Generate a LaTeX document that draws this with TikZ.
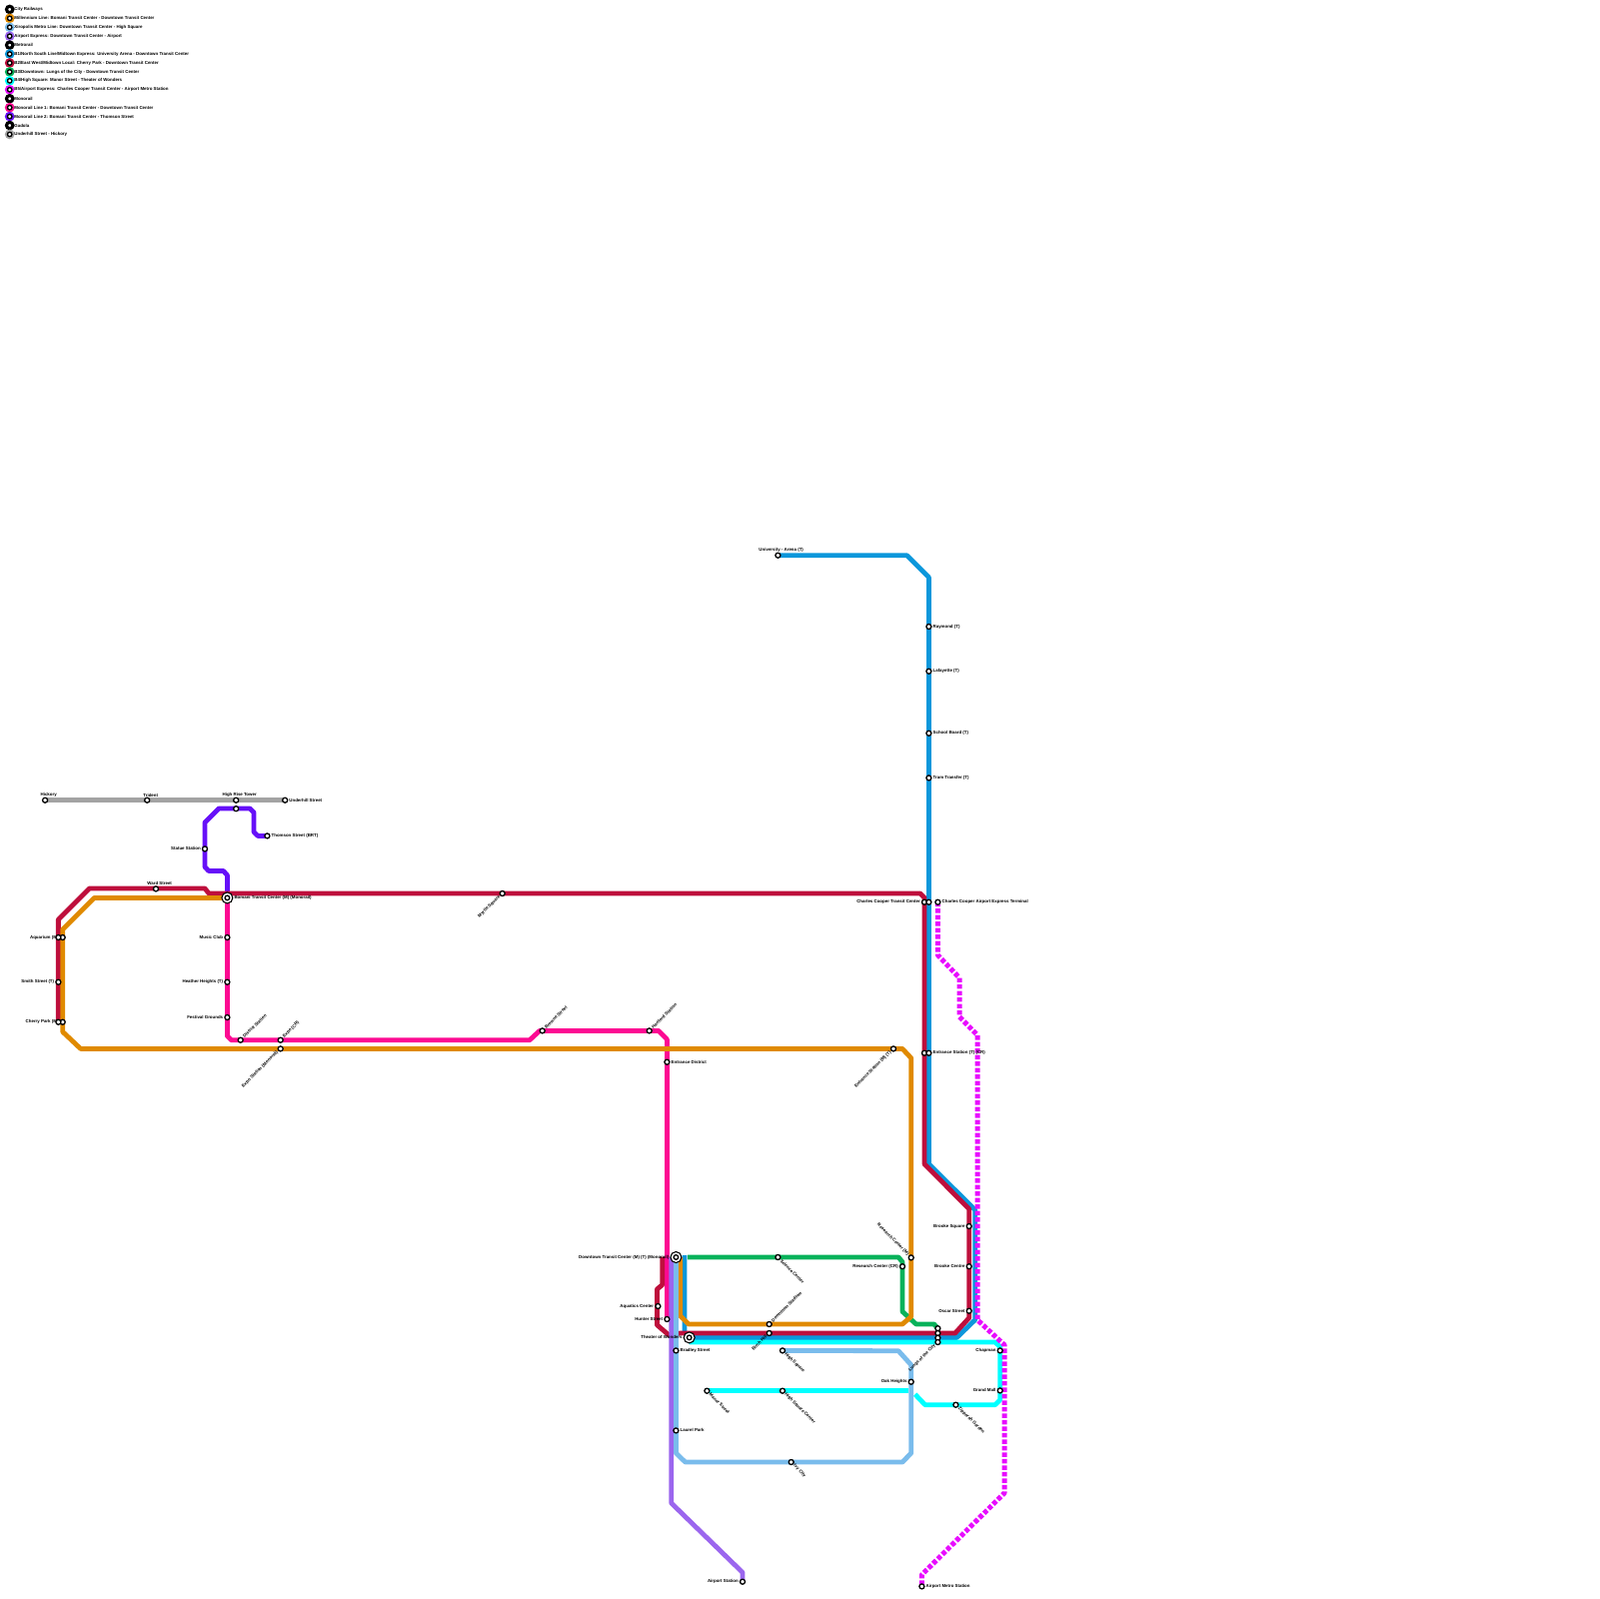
\documentclass[tikz,border=0pt]{standalone}
\usepackage{fontspec}
\setmainfont{Liberation Sans}
\definecolor{greyline}{HTML}{A3A3A3}
\definecolor{violetline}{HTML}{6610F8}
\definecolor{pinkline}{HTML}{FC0A92}
\definecolor{blueline}{HTML}{0B97DB}
\definecolor{cyanline}{HTML}{00FFFF}
\definecolor{redline}{HTML}{BE0F3C}
\definecolor{greenline}{HTML}{08B25A}
\definecolor{orangeline}{HTML}{E08A00}
\definecolor{purpleline}{HTML}{9B66EE}
\definecolor{skyline}{HTML}{7ABCEC}
\definecolor{magentaline}{HTML}{E80CFF}
\tikzset{
  route/.style={line width=4.8*0.1mm, line join=round},
  stn/.style={circle, draw=black, fill=white, line width=1.3*0.1mm, minimum size=5*0.1mm, inner sep=0pt},
  hub/.style={circle, draw=black, fill=white, line width=1.1*0.1mm, minimum size=11*0.1mm, inner sep=0pt,
    path picture={\draw[black, line width=1.3*0.1mm, fill=white] (path picture bounding box.center) circle (2.3*0.1mm);}},
  lbl/.style={font=\fontsize{1.25pt}{1.5pt}\selectfont\bfseries, text=black, inner sep=0.4*0.1mm},
  lblR/.style={lbl, anchor=west},
  lblL/.style={lbl, anchor=east},
  lblT/.style={lbl, anchor=south},
  lblNE/.style={lbl, anchor=west, rotate=45},
  lblSW/.style={lbl, anchor=east, rotate=45},
  lblSE/.style={lbl, anchor=west, rotate=-45},
  lblNW/.style={lbl, anchor=east, rotate=-45},
  key/.style={circle, line width=2*0.1mm, minimum size=7.6*0.1mm, inner sep=0pt, fill=black},
}
\begin{document}
\begin{tikzpicture}[x=0.1mm, y=-0.1mm]
    \useasboundingbox (-0.7, -0.7) rectangle (1599.3, 1599.3);

    % Stations of the lines that are reached by name
    \coordinate (downtown) at (675.7, 1257.3);
    \coordinate (bomani) at (226.7, 897.7);
    \coordinate (theater) at (689, 1337.7);
    \coordinate (highrise2) at (235.5, 808.5);
    \coordinate (hickory) at (44.4, 800);
    \coordinate (underhill) at (284.5, 800);
    \coordinate (thomson) at (266.7, 835.7);
    \coordinate (hartford) at (649, 1030.7);
    \coordinate (hunter) at (666.7, 1319.3);
    \coordinate (university) at (777.7, 555);
    \coordinate (cherryT) at (57.7, 1022);
    \coordinate (manor) at (706.7, 1391);
    \coordinate (lungs) at (937.7, 1328.5);
    \coordinate (highsquare) at (782.3, 1350.7);
    \coordinate (airport) at (742.3, 1582);
    \coordinate (terminal) at (937.7, 902);
    \coordinate (airportmetro) at (921.7, 1586.7);

    % Lines
    \draw[route, greyline] (hickory) -- (underhill);
    \draw[route, violetline] (bomani) -- (226.7, 875) -- (222.7, 870.7) -- (208, 870.7) -- (204.3, 866.7)
        -- (204.3, 822.3) -- (218.3, 808.3) -- (249.3, 808.3) -- (253.3, 812.3) -- (253.3, 831.7)
        -- (257.3, 835.7) -- (thomson);
    \draw[route, pinkline] (bomani) -- (226.7, 1036) -- (230.7, 1040) -- (529.3, 1040) -- (539.3, 1030.7)
        -- (658.3, 1030.7) -- (666.7, 1039.3) -- (hunter);
    \draw[route, blueline] (university) -- (906.7, 555) -- (928.7, 577) -- (928.7, 1164) -- (975, 1210)
        -- (975, 1320) -- (956.7, 1337.7) -- (689, 1337.7) -- (684.3, 1333) -- (684.3, 1255.5);
    \draw[route, cyanline] (theater) ++(0, 4.5) -- (995, 1342.2) -- (1000, 1347) -- (1000, 1400) -- (995, 1405)
        -- (925, 1405) -- (915, 1394.5);
    \draw[route, cyanline] (manor) -- (908.3, 1391);
    \draw[route, redline] (cherryT) -- (57.7, 919.3) -- (88.7, 888.3) -- (204.3, 888.3) -- (208.3, 893.3)
        -- (920, 893.3) -- (924.3, 897.5) -- (924.3, 1164) -- (969, 1209) -- (969, 1318) -- (955, 1333.3)
        -- (680, 1333.3) -- (668.3, 1335) -- (656.7, 1325) -- (656.7, 1289.3) -- (662, 1285) -- (662, 1257);
    \draw[route, greenline] (687.3, 1257.3) -- (898.3, 1257.3) -- (902.3, 1262) -- (902.3, 1311.7)
        -- (916, 1324.3) -- (934, 1324.3) -- (lungs);
    \draw[route, orangeline] (bomani) -- (93.7, 897.7) -- (62, 929.3) -- (62, 1031.7) -- (80, 1048.7)
        -- (902.3, 1048.7) -- (911, 1058) -- (911, 1316.7) -- (902.3, 1324.3) -- (688.3, 1324.3)
        -- (680, 1316) -- (680, 1257.3);
    \draw[route, purpleline] (671, 1257.3) -- (671, 1503.3) -- (742.3, 1572.7) -- (airport);
    \draw[route, skyline] (downtown) -- (675.7, 1453.3) -- (685, 1462.3) -- (902.3, 1462.3) -- (911, 1453.3)
        -- (911, 1365) -- (898.3, 1351) -- (highsquare);
    \draw[route, magentaline, line width=5*0.1mm, dash pattern=on 4.4*0.1mm off 2.1*0.1mm] (terminal) -- (937.7, 955)
        -- (959.3, 977.7) -- (959.3, 1016.7) -- (977.3, 1035) -- (977.3, 1320) -- (1004.3, 1345)
        -- (1004.3, 1493.3) -- (921.7, 1575) -- (airportmetro);

    % Gadola
    \node[stn] (s1) at (hickory) {};
    \node[lblT] (t1) at (48, 797.5) {Hickory};
    \node[stn] (s2) at (146.5, 800) {};
    \node[lblT] (t2) at (150, 797.5) {Trident};
    \node[stn] (s3) at (235.5, 800) {};
    \node[lblT] (t3) at (239, 797.5) {High Rise Tower};
    \node[stn] (s4) at (underhill) {};
    \node[lblR] (t4) at (s4.east) {Underhill Street};

    % Monorail line 2
    \node[stn] (s5) at (highrise2) {};
    \node[stn] (s6) at (thomson) {};
    \node[lblR] (t6) at (s6.east) {Thomson Street (BRT)};
    \node[stn] (s7) at (204.3, 848.7) {};
    \node[lblL] (t7) at (s7.west) {Statue Station};

    % West side
    \node[stn] (s8) at (155.3, 888.7) {};
    \node[lblT] (t8) at (159, 886) {Ward Street};
    \node[stn] (s9) at (62, 937.3) {};
    \node[lblL] (t9) at (s9.west) {Aquarium (M)};
    \node[stn] (s10) at (57.7, 937.3) {};
    \node[stn] (s11) at (57.7, 982) {};
    \node[lblL] (t11) at (s11.west) {Smith Street (T)};
    \node[stn] (s12) at (62, 1022) {};
    \node[lblL] (t12) at (s12.west) {Cherry Park (M)};
    \node[stn] (s13) at (cherryT) {};

    % Monorail line 1
    \node[hub] (s14) at (bomani) {};
    \node[lblR] (t14) at (s14.east) {Bomani Transit Center (M) (Monorail)};
    \node[stn] (s15) at (226.7, 937.3) {};
    \node[lblL] (t15) at (s15.west) {Music Club};
    \node[stn] (s16) at (226.7, 982) {};
    \node[lblL] (t16) at (s16.west) {Heather Heights (T)};
    \node[stn] (s17) at (226.7, 1017.3) {};
    \node[lblL] (t17) at (s17.west) {Festival Grounds};
    \node[stn] (s18) at (240, 1040) {};
    \node[lblNE] (t18) at (s18.north east) {District Station};
    \node[stn] (s19) at (280, 1040) {};
    \node[lblNE] (t19) at (s19.north east) {Expo (CR)};
    \node[stn] (s20) at (280, 1048.7) {};
    \node[lblSW] (t20) at (s20.south west) {Expo Station (Monorail)};
    \node[stn] (s21) at (502, 893.3) {};
    \node[lblSW] (t21) at (s21.south west) {Myrtle Square};
    \node[stn] (s22) at (542, 1030.7) {};
    \node[lblNE] (t22) at (s22.north east) {Browne Street};
    \node[stn] (s23) at (hartford) {};
    \node[lblNE] (t23) at (s23.north east) {Hartford Station};
    \node[stn] (s24) at (666.7, 1062) {};
    \node[lblR] (t24) at (s24.east) {Entrance District};
    \node[stn] (s25) at (hunter) {};
    \node[lblL] (t25) at (s25.west) {Hunter Street};
    \node[stn] (s26) at (657.7, 1306.3) {};
    \node[lblL] (t26) at (s26.west) {Aquatics Center};

    % Downtown
    \node[hub] (s27) at (downtown) {};
    \node[lblL] (t27) at (s27.west) {Downtown Transit Center (M) (T) (Monorail)};
    \node[hub] (s28) at (theater) {};
    \node[lblL] (t28) at (s28.west) {Theater of Wonders};
    \node[stn] (s29) at (675.7, 1350.7) {};
    \node[lblR] (t29) at (s29.east) {Bradley Street};
    \node[stn] (s30) at (675.7, 1430.7) {};
    \node[lblR] (t30) at (s30.east) {Laurel Park};
    \node[stn] (s31) at (airport) {};
    \node[lblL] (t31) at (s31.west) {Airport Station};
    \node[stn] (s32) at (777.7, 1257.3) {};
    \node[lblSE] (t32) at (s32.south east) {Science Center};
    \node[stn] (s33) at (769, 1324.3) {};
    \node[lblNE] (t33) at (s33.north east) {Downtown Stadium};
    \node[stn] (s34) at (769, 1333.3) {};
    \node[lblSW] (t34) at (s34.south west) {Birch Hill};
    \node[stn] (s35) at (highsquare) {};
    \node[lblSE] (t35) at (s35.south east) {High Square};
    \node[stn] (s36) at (manor) {};
    \node[lblSE] (t36) at (s36.south east) {Manor Street};
    \node[stn] (s37) at (782.3, 1391) {};
    \node[lblSE] (t37) at (s37.south east) {High Square Center};
    \node[stn] (s38) at (791, 1462.3) {};
    \node[lblSE] (t38) at (s38.south east) {Ivy City};
    \node[stn] (s39) at (911, 1382) {};
    \node[lblL] (t39) at (s39.west) {Oak Heights};
    \node[stn] (s40) at (955.7, 1405) {};
    \node[lblSE] (t40) at (s40.south east) {Zipporah Garden};
    \node[stn] (s41) at (1000, 1350.7) {};
    \node[lblL] (t41) at (s41.west) {Chapman};
    \node[stn] (s42) at (1000, 1390.7) {};
    \node[lblL] (t42) at (s42.west) {Grand Mall};

    % Stacked stops
    \node[stn] (s43) at (lungs) {};
    \node[stn] (s44) at (937.7, 1333.3) {};
    \node[stn] (s45) at (937.7, 1338) {};
    \node[stn] (s46) at (937.7, 1342.3) {};
    \node[lblSW] (t46) at (s46.south west) {Lungs of the City};

    % East side
    \node[stn] (s47) at (911, 1257.7) {};
    \node[lblNW] (t47) at (s47.north west) {Research Center (M)};
    \node[stn] (s48) at (902.3, 1266.5) {};
    \node[lblL] (t48) at (s48.west) {Research Center (CR)};
    \node[stn] (s49) at (969, 1226.3) {};
    \node[lblL] (t49) at (s49.west) {Brooke Square};
    \node[stn] (s50) at (969, 1266.5) {};
    \node[lblL] (t50) at (s50.west) {Brooke Centre};
    \node[stn] (s51) at (969, 1311) {};
    \node[lblL] (t51) at (s51.west) {Oscar Street};
    \node[stn] (s52) at (924.3, 902) {};
    \node[lblL] (t52) at (s52.west) {Charles Cooper Transit Center};
    \node[stn] (s53) at (928.7, 902) {};
    \node[stn] (s54) at (terminal) {};
    \node[lblR] (t54) at (s54.east) {Charles Cooper Airport Express Terminal};
    \node[stn] (s55) at (924.3, 1053) {};
    \node[stn] (s56) at (928.7, 1053) {};
    \node[lblR] (t56) at (s56.east) {Entrance Station (T) (CR)};
    \node[stn] (s57) at (893.3, 1048.7) {};
    \node[lblSW] (t57) at (s57.south west) {Entrance Station (M) (T)};
    \node[stn] (s58) at (airportmetro) {};
    \node[lblR] (t58) at (s58.east) {Airport Metro Station};

    % North branch
    \node[stn] (s59) at (university) {};
    \node[lblT] (t59) at (781, 552.5) {University - Arena (T)};
    \node[stn] (s60) at (928.7, 626.3) {};
    \node[lblR] (t60) at (s60.east) {Raymond (T)};
    \node[stn] (s61) at (928.7, 671) {};
    \node[lblR] (t61) at (s61.east) {Lafayette (T)};
    \node[stn] (s62) at (928.7, 733) {};
    \node[lblR] (t62) at (s62.east) {School Board (T)};
    \node[stn] (s63) at (928.7, 777.7) {};
    \node[lblR] (t63) at (s63.east) {Tram Transfer (T)};

    % Legend
    \foreach \i/\c in {0/black, 1/orangeline, 2/skyline, 3/purpleline, 4/black, 5/blueline, 6/redline,
        7/greenline, 8/cyanline, 9/magentaline, 10/black, 11/pinkline, 12/violetline, 13/black, 14/greyline} {
      \node[key, draw=\c] (k\i) at (9, 8.7 + 8.93*\i) {};
      \node[stn, minimum size=4.4*0.1mm] (d\i) at (k\i) {};
    }
    \node[lblR, inner sep=0pt] (n0) at (13, 8.7) {City Railways};
    \node[lblR, inner sep=0pt] (n1) at (13, 17.6) {Millennium Line: Bomani Transit Center - Downtown Transit Center};
    \node[lblR, inner sep=0pt] (n2) at (13, 26.6) {Xiropolis Metro Line: Downtown Transit Center - High Square};
    \node[lblR, inner sep=0pt] (n3) at (13, 35.5) {Airport Express: Downtown Transit Center - Airport};
    \node[lblR, inner sep=0pt] (n4) at (13, 44.4) {Metrorail};
    \node[lblR, inner sep=0pt] (n5) at (13, 53.4) {B1/North South Line/Midtown Express: University Arena - Downtown Transit Center};
    \node[lblR, inner sep=0pt] (n6) at (13, 62.3) {B2/East West/Midtown Local: Cherry Park - Downtown Transit Center};
    \node[lblR, inner sep=0pt] (n7) at (13, 71.2) {B3/Downtown: Lungs of the City - Downtown Transit Center};
    \node[lblR, inner sep=0pt] (n8) at (13, 80.1) {B4/High Square: Manor Street - Theater of Wonders};
    \node[lblR, inner sep=0pt] (n9) at (13, 89.1) {B5/Airport Express: Charles Cooper Transit Center - Airport Metro Station};
    \node[lblR, inner sep=0pt] (n10) at (13, 98) {Monorail};
    \node[lblR, inner sep=0pt] (n11) at (13, 106.9) {Monorail Line 1: Bomani Transit Center - Downtown Transit Center};
    \node[lblR, inner sep=0pt] (n12) at (13, 115.9) {Monorail Line 2: Bomani Transit Center - Thomson Street};
    \node[lblR, inner sep=0pt] (n13) at (13, 124.8) {Gadola};
    \node[lblR, inner sep=0pt] (n14) at (13, 133.7) {Underhill Street - Hickory};
\end{tikzpicture}
\end{document}
